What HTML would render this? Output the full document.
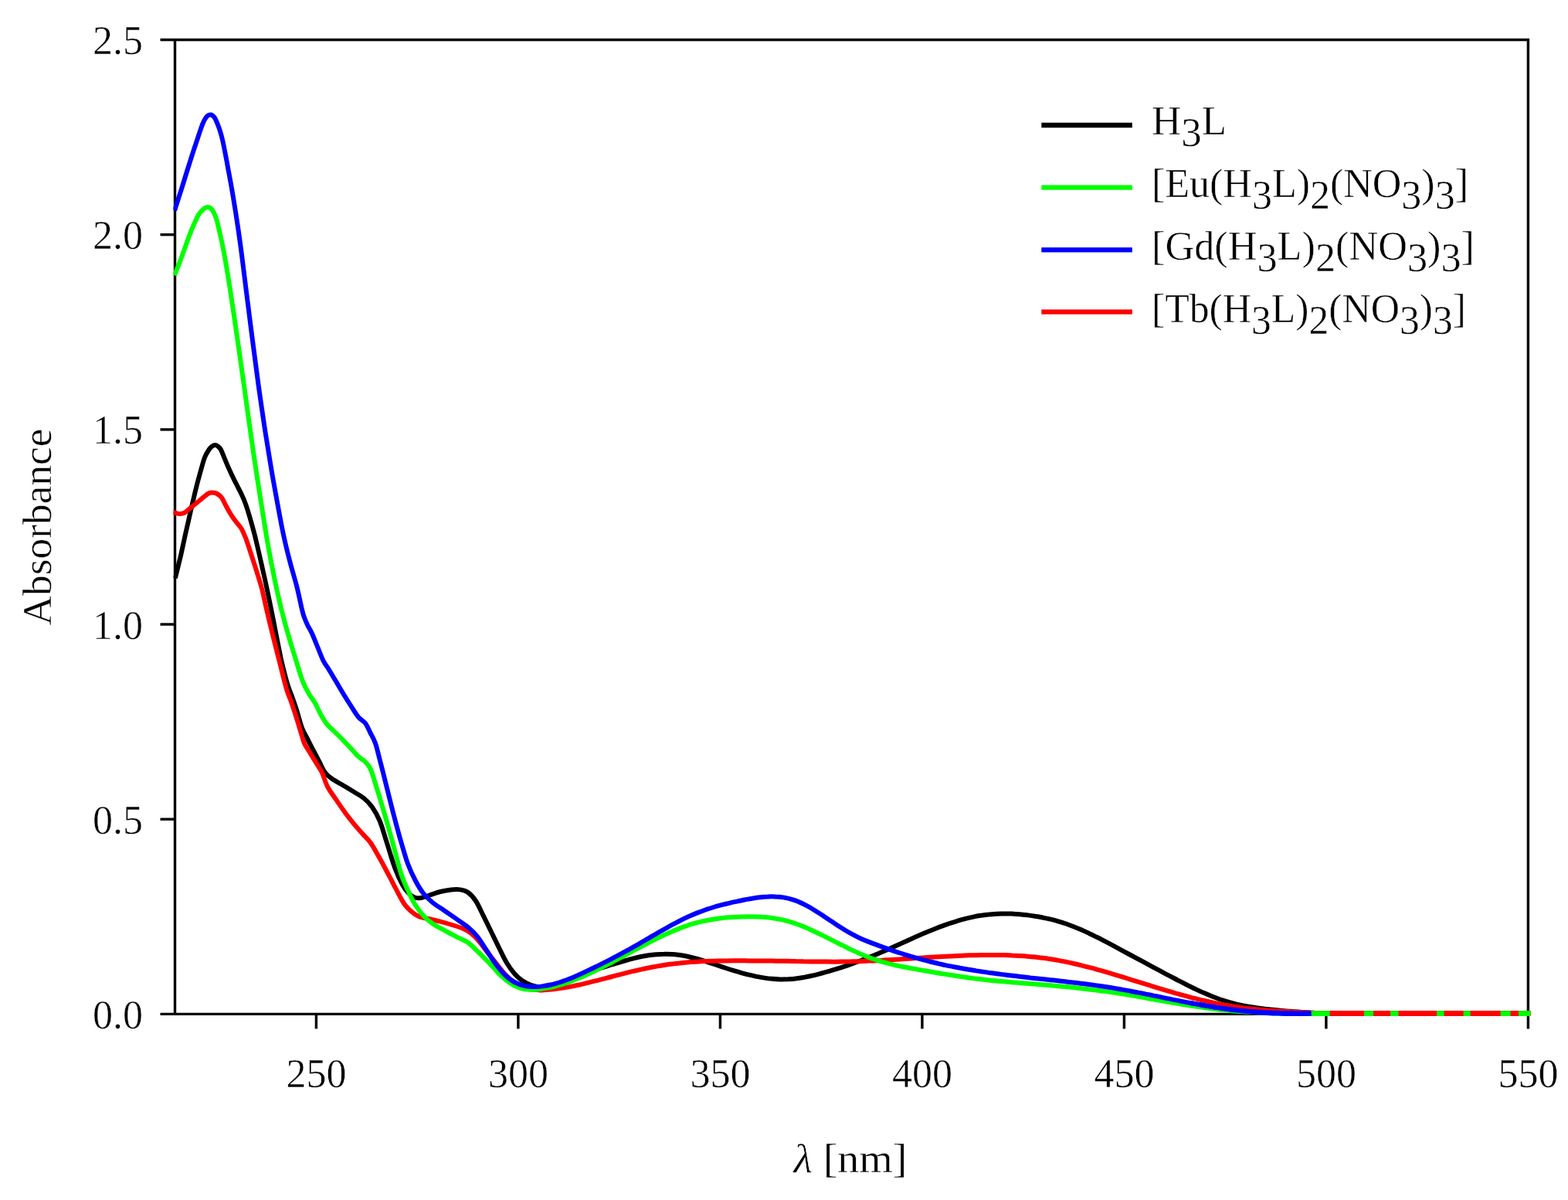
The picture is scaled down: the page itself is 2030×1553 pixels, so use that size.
<!DOCTYPE html>
<html lang="en">
<head>
<meta charset="utf-8">
<title>Absorbance spectra</title>
<style>
html,body{margin:0;padding:0;background:#fff;}
body{width:2030px;height:1553px;overflow:hidden;}
svg{display:block;}
text{font-family:"Liberation Serif","DejaVu Serif",serif;font-size:52px;fill:#000;stroke:#fff;stroke-width:0.5px;}
.ax{stroke:#000;stroke-width:3.4;fill:none;stroke-linecap:butt;}
.cv{fill:none;stroke-width:6.0;stroke-linecap:square;stroke-linejoin:round;}
.lg{fill:none;stroke-width:6.3;stroke-linecap:butt;}
</style>
</head>
<body>
<svg width="2030" height="1553" viewBox="0 0 2030 1553">
<rect width="2030" height="1553" fill="#fff"/>
<g class="ax">
<path d="M226.5 51.5V1312.4"/>
<path d="M207.5 51.5H1980.1000000000001"/>
<path d="M1978.4 51.5V1331.4"/>
<path d="M207.5 1312.4H1978.4"/>
<path d="M207.5 1060.2H226.5"/>
<path d="M207.5 808.0H226.5"/>
<path d="M207.5 555.9H226.5"/>
<path d="M207.5 303.7H226.5"/>
<path d="M409.4 1312.4V1331.4"/>
<path d="M670.9 1312.4V1331.4"/>
<path d="M932.4 1312.4V1331.4"/>
<path d="M1193.9 1312.4V1331.4"/>
<path d="M1455.4 1312.4V1331.4"/>
<path d="M1716.9 1312.4V1331.4"/>
</g>
<g text-anchor="end">
<text x="185" y="1330.9">0.0</text>
<text x="185" y="1078.7">0.5</text>
<text x="185" y="826.5">1.0</text>
<text x="185" y="574.4">1.5</text>
<text x="185" y="322.2">2.0</text>
<text x="185" y="70.0">2.5</text>
</g>
<g text-anchor="middle">
<text x="409.4" y="1407">250</text>
<text x="670.9" y="1407">300</text>
<text x="932.4" y="1407">350</text>
<text x="1193.9" y="1407">400</text>
<text x="1455.4" y="1407">450</text>
<text x="1716.9" y="1407">500</text>
<text x="1978.4" y="1407">550</text>
</g>
<text transform="translate(66 682) rotate(-90)" text-anchor="middle" textLength="255" lengthAdjust="spacingAndGlyphs">Absorbance</text>
<text x="1101" y="1517" text-anchor="middle" textLength="147" lengthAdjust="spacingAndGlyphs"><tspan font-style="italic">λ</tspan> [nm]</text>
<defs><clipPath id="pc"><rect x="224.3" y="40" width="1757.5" height="1285"/></clipPath></defs>
<path class="cv" clip-path="url(#pc)" stroke="#000000" d="M227.5 745.5C227.7 744.6 227.9 744.2 228.9 740.0C229.9 735.7 232.8 724.2 233.8 720.0C234.8 715.8 233.8 720.0 234.9 715.0C236.0 710.0 238.7 697.6 240.3 690.1C242.0 682.6 243.4 676.7 244.9 670.0C246.4 663.3 247.9 656.7 249.5 650.0C251.1 643.3 252.6 636.7 254.3 630.1C255.9 623.4 257.8 616.5 259.6 610.2C261.4 603.8 263.2 596.7 265.0 592.0C266.8 587.3 268.9 584.4 270.5 582.0C272.1 579.6 273.2 578.6 274.5 577.6C275.8 576.6 277.2 576.0 278.5 576.0C279.8 576.0 281.2 576.8 282.5 577.8C283.8 578.8 284.6 579.4 286.0 582.0C287.4 584.6 288.9 589.0 290.7 593.1C292.4 597.3 294.5 602.4 296.5 606.8C298.4 611.2 300.6 615.9 302.5 619.7C304.4 623.6 306.0 626.5 307.8 630.1C309.7 633.7 311.7 637.4 313.4 641.3C315.2 645.1 316.6 648.4 318.3 653.2C320.0 658.1 321.8 664.0 323.6 670.1C325.4 676.2 327.8 685.0 329.1 690.0C330.4 695.0 330.1 693.4 331.6 700.1C333.2 706.8 336.3 720.0 338.5 730.0C340.8 740.0 343.0 750.1 345.2 760.1C347.3 770.1 349.4 780.0 351.4 790.0C353.4 800.0 355.2 809.7 357.3 820.0C359.3 830.3 362.0 844.2 363.6 851.9C365.3 859.5 365.4 859.9 367.0 865.9C368.5 872.0 371.0 881.6 373.0 888.0C375.0 894.4 377.0 898.5 379.0 904.2C381.0 909.9 383.1 915.8 385.0 922.1C387.0 928.4 388.7 936.1 391.0 942.0C393.3 947.9 396.5 953.1 398.9 957.8C401.2 962.5 402.8 965.5 405.2 970.2C407.6 974.8 410.7 980.8 413.4 985.8C416.0 990.8 418.2 996.3 421.0 1000.0C423.8 1003.7 426.0 1005.2 430.0 1008.0C434.0 1010.8 440.1 1013.8 444.9 1016.7C449.7 1019.6 454.5 1022.5 458.9 1025.2C463.2 1027.9 467.2 1029.9 471.0 1033.0C474.8 1036.1 478.1 1039.2 481.5 1044.0C484.9 1048.8 488.2 1054.0 491.5 1062.0C494.8 1070.0 497.9 1081.7 501.3 1092.1C504.6 1102.4 508.2 1115.2 511.5 1124.0C514.8 1132.8 518.1 1139.7 521.0 1145.0C523.9 1150.3 526.3 1153.2 529.0 1156.0C531.7 1158.8 534.3 1160.5 537.0 1161.5C539.7 1162.5 541.8 1162.5 545.0 1162.0C548.2 1161.5 551.8 1159.8 556.0 1158.5C560.2 1157.2 565.3 1155.2 570.0 1154.0C574.7 1152.8 579.7 1151.8 584.0 1151.4C588.3 1151.0 592.3 1150.8 596.0 1151.4C599.7 1152.0 602.7 1152.6 606.0 1155.0C609.3 1157.4 612.8 1161.1 616.0 1166.0C619.2 1170.9 622.1 1177.6 625.4 1184.3C628.7 1191.0 632.5 1198.8 636.0 1206.0C639.5 1213.2 643.3 1221.0 646.6 1227.7C649.9 1234.4 652.8 1240.6 656.0 1246.0C659.2 1251.4 662.7 1256.2 666.0 1260.0C669.3 1263.8 672.3 1266.5 676.0 1269.0C679.7 1271.5 684.0 1273.6 688.0 1275.0C692.0 1276.4 696.3 1277.3 700.0 1277.6C703.7 1277.8 706.7 1277.1 710.0 1276.6C713.3 1276.1 716.7 1275.3 720.0 1274.4C723.3 1273.6 726.7 1272.5 730.0 1271.4C733.3 1270.3 736.7 1269.0 740.0 1267.7C743.3 1266.4 746.7 1265.0 750.0 1263.6C753.3 1262.3 756.7 1260.9 760.0 1259.5C763.3 1258.2 766.7 1256.8 770.0 1255.6C773.3 1254.3 776.7 1253.2 780.0 1252.1C783.3 1251.0 786.7 1250.0 790.0 1249.0C793.3 1248.0 796.7 1247.1 800.0 1246.1C803.3 1245.1 806.7 1244.1 810.0 1243.1C813.3 1242.2 816.7 1241.2 820.0 1240.3C823.3 1239.5 826.7 1238.7 830.0 1238.0C833.3 1237.4 836.7 1236.8 840.0 1236.3C843.3 1235.8 846.7 1235.5 850.0 1235.2C853.3 1234.9 856.7 1234.8 860.0 1234.8C863.3 1234.7 866.7 1234.8 870.0 1235.0C873.3 1235.2 876.7 1235.6 880.0 1236.0C883.3 1236.5 886.7 1237.1 890.0 1237.8C893.3 1238.5 896.7 1239.4 900.0 1240.2C903.3 1241.1 906.7 1242.1 910.0 1243.1C913.3 1244.1 916.7 1245.2 920.0 1246.3C923.3 1247.4 926.7 1248.6 930.0 1249.7C933.3 1250.8 936.7 1251.9 940.0 1253.0C943.3 1254.1 946.7 1255.2 950.0 1256.2C953.3 1257.2 956.7 1258.2 960.0 1259.1C963.3 1260.0 966.7 1260.9 970.0 1261.7C973.3 1262.5 976.7 1263.2 980.0 1263.9C983.3 1264.5 986.7 1265.1 990.0 1265.6C993.3 1266.1 996.7 1266.5 1000.0 1266.8C1003.3 1267.1 1006.7 1267.3 1010.0 1267.4C1013.3 1267.5 1016.7 1267.4 1020.0 1267.3C1023.3 1267.1 1026.7 1266.9 1030.0 1266.5C1033.3 1266.1 1036.7 1265.6 1040.0 1265.0C1043.3 1264.4 1046.7 1263.8 1050.0 1263.0C1053.3 1262.3 1056.7 1261.5 1060.0 1260.6C1063.3 1259.8 1066.7 1258.8 1070.0 1257.9C1073.3 1256.9 1076.7 1256.0 1080.0 1254.9C1083.3 1253.9 1086.7 1252.9 1090.0 1251.8C1093.3 1250.7 1096.7 1249.6 1100.0 1248.4C1103.3 1247.3 1106.7 1246.1 1110.0 1244.8C1113.3 1243.6 1116.7 1242.3 1120.0 1241.0C1123.3 1239.7 1126.7 1238.4 1130.0 1237.0C1133.3 1235.7 1136.7 1234.2 1140.0 1232.8C1143.3 1231.4 1146.7 1229.9 1150.0 1228.4C1153.3 1226.9 1156.7 1225.4 1160.0 1223.9C1163.3 1222.4 1166.7 1220.9 1170.0 1219.4C1173.3 1217.9 1176.7 1216.4 1180.0 1214.9C1183.3 1213.4 1186.7 1211.9 1190.0 1210.5C1193.3 1209.1 1196.7 1207.6 1200.0 1206.2C1203.3 1204.9 1206.7 1203.5 1210.0 1202.2C1213.3 1200.9 1216.7 1199.6 1220.0 1198.4C1223.3 1197.1 1226.7 1196.0 1230.0 1194.8C1233.3 1193.7 1236.7 1192.7 1240.0 1191.7C1243.3 1190.7 1246.7 1189.8 1250.0 1188.9C1253.3 1188.1 1256.7 1187.3 1260.0 1186.6C1263.3 1185.9 1266.7 1185.3 1270.0 1184.8C1273.3 1184.3 1276.7 1183.8 1280.0 1183.5C1283.3 1183.1 1286.7 1182.9 1290.0 1182.7C1293.3 1182.5 1296.7 1182.5 1300.0 1182.4C1303.3 1182.4 1306.7 1182.5 1310.0 1182.6C1313.3 1182.8 1316.7 1183.0 1320.0 1183.2C1323.3 1183.5 1326.7 1183.9 1330.0 1184.3C1333.3 1184.7 1336.7 1185.1 1340.0 1185.7C1343.3 1186.2 1346.7 1186.8 1350.0 1187.5C1353.3 1188.2 1356.7 1188.9 1360.0 1189.7C1363.3 1190.5 1366.7 1191.4 1370.0 1192.4C1373.3 1193.4 1376.7 1194.4 1380.0 1195.5C1383.3 1196.7 1386.7 1197.9 1390.0 1199.2C1393.3 1200.5 1396.7 1201.9 1400.0 1203.3C1403.3 1204.8 1406.7 1206.3 1410.0 1207.9C1413.3 1209.4 1416.7 1211.1 1420.0 1212.8C1423.3 1214.4 1426.7 1216.2 1430.0 1217.9C1433.3 1219.6 1436.7 1221.4 1440.0 1223.2C1443.3 1225.0 1446.7 1226.8 1450.0 1228.6C1453.3 1230.4 1456.7 1232.2 1460.0 1234.0C1463.3 1235.7 1466.7 1237.5 1470.0 1239.3C1473.3 1241.1 1476.7 1242.9 1480.0 1244.7C1483.3 1246.5 1486.7 1248.3 1490.0 1250.1C1493.3 1251.9 1496.7 1253.7 1500.0 1255.4C1503.3 1257.2 1506.7 1259.0 1510.0 1260.8C1513.3 1262.5 1516.7 1264.3 1520.0 1266.0C1523.3 1267.8 1526.7 1269.5 1530.0 1271.2C1533.3 1272.9 1536.7 1274.6 1540.0 1276.3C1543.3 1277.9 1546.7 1279.5 1550.0 1281.1C1553.3 1282.7 1556.7 1284.2 1560.0 1285.6C1563.3 1287.1 1566.7 1288.5 1570.0 1289.8C1573.3 1291.1 1576.7 1292.3 1580.0 1293.5C1583.3 1294.6 1586.7 1295.6 1590.0 1296.6C1593.3 1297.6 1596.7 1298.4 1600.0 1299.3C1603.3 1300.1 1606.7 1300.8 1610.0 1301.5C1613.3 1302.1 1616.7 1302.7 1620.0 1303.3C1623.3 1303.9 1626.7 1304.4 1630.0 1304.8C1633.3 1305.3 1636.7 1305.7 1640.0 1306.1C1643.3 1306.4 1646.7 1306.8 1650.0 1307.1C1653.3 1307.4 1656.7 1307.7 1660.0 1308.0C1663.3 1308.3 1666.7 1308.5 1670.0 1308.8C1673.3 1309.0 1676.7 1309.3 1680.0 1309.5C1683.3 1309.8 1686.7 1310.1 1690.0 1310.3C1693.3 1310.6 1695.0 1310.8 1700.0 1311.0C1705.0 1311.2 1713.3 1311.5 1720.0 1311.7C1726.7 1311.9 1697.0 1311.9 1740.0 1311.9C1783.0 1311.9 1938.6 1311.9 1978.3 1311.9"/>
<path class="cv" clip-path="url(#pc)" stroke="#ff0000" d="M227.0 663.7C228.0 663.9 231.0 665.0 233.0 665.0C235.0 665.0 237.0 664.5 239.0 663.5C241.0 662.5 242.7 660.6 244.9 658.8C247.0 657.1 249.6 654.9 252.0 653.0C254.3 651.0 256.9 648.9 259.1 647.1C261.2 645.3 263.3 643.6 265.1 642.2C267.0 640.7 268.4 639.3 270.0 638.5C271.6 637.7 273.2 637.4 275.0 637.5C276.8 637.6 279.0 637.9 281.0 639.0C283.0 640.1 285.2 641.6 287.0 644.0C288.8 646.4 290.2 650.2 291.8 653.1C293.4 656.1 294.9 659.0 296.5 661.7C298.1 664.5 299.7 667.1 301.5 669.7C303.2 672.2 305.1 674.6 307.0 677.0C308.8 679.4 310.9 681.3 312.5 684.0C314.1 686.7 315.6 690.4 316.7 693.1C317.9 695.8 317.4 694.0 319.5 700.2C321.6 706.3 326.1 720.1 329.3 730.1C332.4 740.0 335.8 750.0 338.5 760.0C341.2 770.0 343.0 779.9 345.4 789.9C347.7 799.9 350.0 809.1 352.6 820.0C355.3 830.8 358.4 843.0 361.5 855.0C364.6 867.0 368.4 883.1 371.0 892.0C373.6 900.9 375.0 902.5 377.0 908.2C378.9 913.9 380.8 919.5 382.9 926.1C385.0 932.7 387.7 941.9 389.5 947.8C391.4 953.8 392.0 957.6 394.0 962.0C396.0 966.4 398.5 969.5 401.3 974.1C404.1 978.8 408.2 985.5 410.8 989.8C413.4 994.2 414.8 995.3 417.0 1000.0C419.2 1004.7 420.9 1012.1 424.0 1018.0C427.1 1023.9 431.5 1029.7 435.6 1035.6C439.6 1041.6 444.4 1048.4 448.3 1053.8C452.3 1059.1 455.8 1063.4 459.3 1067.7C462.9 1072.0 466.2 1075.5 469.6 1079.4C473.1 1083.2 476.2 1085.5 480.0 1091.0C483.8 1096.5 488.6 1105.5 492.4 1112.3C496.3 1119.2 499.4 1125.3 503.1 1132.2C506.8 1139.1 511.0 1147.5 514.4 1153.8C517.8 1160.1 520.4 1165.6 523.5 1170.0C526.6 1174.4 529.8 1177.2 533.0 1180.0C536.2 1182.8 539.2 1184.9 543.0 1186.5C546.8 1188.1 551.6 1188.3 556.0 1189.3C560.5 1190.3 565.2 1191.4 569.9 1192.6C574.5 1193.8 578.8 1195.0 583.8 1196.5C588.8 1198.1 595.6 1200.1 600.0 1202.0C604.4 1203.9 606.7 1205.3 610.0 1208.0C613.3 1210.7 616.3 1213.7 620.0 1218.0C623.7 1222.3 628.8 1229.6 632.2 1233.9C635.5 1238.2 636.3 1239.2 640.1 1243.9C643.9 1248.6 650.0 1257.0 655.0 1262.0C660.0 1267.0 665.0 1271.1 670.0 1274.0C675.0 1276.9 680.0 1278.3 685.0 1279.5C690.0 1280.7 695.8 1281.2 700.0 1281.4C704.2 1281.6 706.7 1281.1 710.0 1280.8C713.3 1280.6 716.7 1280.2 720.0 1279.8C723.3 1279.4 726.7 1278.9 730.0 1278.3C733.3 1277.8 736.7 1277.2 740.0 1276.6C743.3 1275.9 746.7 1275.2 750.0 1274.5C753.3 1273.7 756.7 1273.0 760.0 1272.2C763.3 1271.4 766.7 1270.5 770.0 1269.7C773.3 1268.9 776.7 1268.0 780.0 1267.1C783.3 1266.2 786.7 1265.4 790.0 1264.5C793.3 1263.6 796.7 1262.7 800.0 1261.8C803.3 1261.0 806.7 1260.1 810.0 1259.3C813.3 1258.4 816.7 1257.6 820.0 1256.8C823.3 1256.1 826.7 1255.3 830.0 1254.6C833.3 1253.9 836.7 1253.2 840.0 1252.5C843.3 1251.9 846.7 1251.2 850.0 1250.6C853.3 1250.1 856.7 1249.5 860.0 1249.0C863.3 1248.5 866.7 1248.0 870.0 1247.6C873.3 1247.1 876.7 1246.7 880.0 1246.4C883.3 1246.0 886.7 1245.7 890.0 1245.4C893.3 1245.1 896.7 1244.9 900.0 1244.7C903.3 1244.5 906.7 1244.3 910.0 1244.1C913.3 1244.0 916.7 1243.9 920.0 1243.8C923.3 1243.7 926.7 1243.6 930.0 1243.5C933.3 1243.4 936.7 1243.4 940.0 1243.4C943.3 1243.3 946.7 1243.3 950.0 1243.3C953.3 1243.3 956.7 1243.3 960.0 1243.3C963.3 1243.3 966.7 1243.4 970.0 1243.4C973.3 1243.4 976.7 1243.4 980.0 1243.4C983.3 1243.5 986.7 1243.5 990.0 1243.5C993.3 1243.5 996.7 1243.6 1000.0 1243.6C1003.3 1243.6 1006.7 1243.7 1010.0 1243.7C1013.3 1243.7 1016.7 1243.8 1020.0 1243.8C1023.3 1243.9 1026.7 1243.9 1030.0 1244.0C1033.3 1244.0 1036.7 1244.1 1040.0 1244.2C1043.3 1244.2 1046.7 1244.3 1050.0 1244.4C1053.3 1244.4 1056.7 1244.5 1060.0 1244.5C1063.3 1244.6 1066.7 1244.6 1070.0 1244.6C1073.3 1244.7 1076.7 1244.7 1080.0 1244.7C1083.3 1244.7 1086.7 1244.7 1090.0 1244.6C1093.3 1244.6 1096.7 1244.5 1100.0 1244.5C1103.3 1244.4 1106.7 1244.3 1110.0 1244.2C1113.3 1244.1 1116.7 1244.0 1120.0 1243.8C1123.3 1243.7 1126.7 1243.5 1130.0 1243.4C1133.3 1243.2 1136.7 1243.0 1140.0 1242.9C1143.3 1242.7 1146.7 1242.5 1150.0 1242.3C1153.3 1242.1 1156.7 1241.9 1160.0 1241.7C1163.3 1241.5 1166.7 1241.3 1170.0 1241.1C1173.3 1240.9 1176.7 1240.6 1180.0 1240.4C1183.3 1240.2 1186.7 1240.0 1190.0 1239.8C1193.3 1239.6 1196.7 1239.3 1200.0 1239.1C1203.3 1238.9 1206.7 1238.7 1210.0 1238.5C1213.3 1238.3 1216.7 1238.1 1220.0 1237.9C1223.3 1237.8 1226.7 1237.6 1230.0 1237.4C1233.3 1237.2 1236.7 1237.1 1240.0 1236.9C1243.3 1236.8 1246.7 1236.7 1250.0 1236.5C1253.3 1236.4 1256.7 1236.3 1260.0 1236.2C1263.3 1236.2 1266.7 1236.1 1270.0 1236.0C1273.3 1236.0 1276.7 1235.9 1280.0 1235.9C1283.3 1235.9 1286.7 1235.9 1290.0 1236.0C1293.3 1236.0 1296.7 1236.0 1300.0 1236.1C1303.3 1236.2 1306.7 1236.3 1310.0 1236.5C1313.3 1236.6 1316.7 1236.8 1320.0 1237.0C1323.3 1237.2 1326.7 1237.4 1330.0 1237.7C1333.3 1238.0 1336.7 1238.3 1340.0 1238.6C1343.3 1239.0 1346.7 1239.4 1350.0 1239.8C1353.3 1240.2 1356.7 1240.7 1360.0 1241.2C1363.3 1241.8 1366.7 1242.3 1370.0 1242.9C1373.3 1243.5 1376.7 1244.2 1380.0 1244.8C1383.3 1245.5 1386.7 1246.2 1390.0 1247.0C1393.3 1247.7 1396.7 1248.5 1400.0 1249.3C1403.3 1250.1 1406.7 1251.0 1410.0 1251.9C1413.3 1252.7 1416.7 1253.6 1420.0 1254.6C1423.3 1255.5 1426.7 1256.4 1430.0 1257.4C1433.3 1258.4 1436.7 1259.3 1440.0 1260.3C1443.3 1261.3 1446.7 1262.4 1450.0 1263.4C1453.3 1264.4 1456.7 1265.4 1460.0 1266.5C1463.3 1267.5 1466.7 1268.6 1470.0 1269.6C1473.3 1270.6 1476.7 1271.7 1480.0 1272.7C1483.3 1273.8 1486.7 1274.8 1490.0 1275.8C1493.3 1276.9 1496.7 1277.9 1500.0 1278.9C1503.3 1279.9 1506.7 1280.9 1510.0 1281.9C1513.3 1282.9 1516.7 1283.9 1520.0 1284.8C1523.3 1285.8 1526.7 1286.7 1530.0 1287.6C1533.3 1288.5 1536.7 1289.4 1540.0 1290.3C1543.3 1291.2 1546.7 1292.0 1550.0 1292.8C1553.3 1293.7 1556.7 1294.5 1560.0 1295.2C1563.3 1296.0 1566.7 1296.8 1570.0 1297.5C1573.3 1298.2 1576.7 1298.9 1580.0 1299.5C1583.3 1300.1 1586.7 1300.8 1590.0 1301.3C1593.3 1301.9 1596.7 1302.5 1600.0 1303.0C1603.3 1303.5 1606.7 1303.9 1610.0 1304.4C1613.3 1304.8 1616.7 1305.2 1620.0 1305.5C1623.3 1305.9 1626.7 1306.2 1630.0 1306.5C1633.3 1306.9 1636.7 1307.1 1640.0 1307.4C1643.3 1307.7 1646.7 1307.9 1650.0 1308.1C1653.3 1308.3 1656.7 1308.5 1660.0 1308.7C1663.3 1308.9 1666.7 1309.1 1670.0 1309.3C1673.3 1309.4 1676.7 1309.6 1680.0 1309.7C1683.3 1309.9 1686.7 1310.1 1690.0 1310.2C1693.3 1310.3 1695.0 1310.5 1700.0 1310.6C1705.0 1310.7 1673.6 1310.9 1720.0 1310.9C1766.4 1311.0 1935.2 1310.9 1978.3 1310.9"/>
<path class="cv" clip-path="url(#pc)" stroke="#00ff00" d="M227.0 353.5C227.8 351.5 230.1 346.0 231.9 341.3C233.7 336.7 235.9 330.6 237.8 325.4C239.7 320.2 241.6 314.6 243.2 310.1C244.9 305.5 246.2 301.9 247.7 298.1C249.3 294.3 250.9 290.6 252.5 287.2C254.0 283.9 255.2 280.7 257.0 278.0C258.8 275.3 261.0 272.7 263.0 271.0C265.0 269.3 267.0 267.8 269.0 268.0C271.0 268.2 273.2 269.5 275.0 272.0C276.8 274.5 278.5 278.7 280.0 283.0C281.5 287.3 282.5 292.7 283.8 298.1C285.0 303.4 286.3 308.9 287.6 315.1C288.8 321.2 290.2 328.4 291.4 335.0C292.6 341.7 293.7 348.4 294.8 355.0C295.9 361.7 296.9 368.3 298.0 375.0C299.0 381.7 300.2 390.0 301.0 395.0C301.7 400.0 301.1 395.8 302.5 405.0C303.8 414.2 306.7 434.2 309.0 450.0C311.3 465.8 313.5 481.7 316.1 500.1C318.6 518.4 322.1 543.3 324.4 559.9C326.8 576.6 328.2 586.6 330.2 600.0C332.2 613.3 334.3 626.7 336.4 640.0C338.5 653.4 341.1 670.0 342.7 680.0C344.3 690.0 344.6 691.7 346.0 700.0C347.5 708.3 349.6 719.9 351.5 729.9C353.5 739.9 355.5 750.0 357.7 760.0C359.9 770.0 362.1 779.9 364.6 789.8C367.1 799.8 369.5 809.0 372.7 819.8C375.8 830.7 380.1 844.5 383.3 854.9C386.5 865.3 389.2 874.8 392.0 882.0C394.8 889.2 397.3 893.3 400.0 898.0C402.7 902.7 405.3 905.3 408.0 910.0C410.7 914.7 413.3 921.3 416.0 926.0C418.7 930.7 421.0 934.4 424.0 938.0C427.0 941.6 430.8 944.6 434.1 947.9C437.4 951.1 440.4 954.0 443.7 957.3C447.0 960.7 450.5 964.5 453.9 968.1C457.3 971.7 460.8 976.0 464.0 979.0C467.2 982.0 470.3 983.2 473.0 986.0C475.7 988.8 477.5 990.3 480.0 996.0C482.5 1001.7 485.4 1012.7 487.8 1020.1C490.1 1027.4 491.4 1031.7 493.9 1040.0C496.4 1048.4 499.8 1060.1 502.7 1070.1C505.5 1080.1 508.2 1090.0 510.9 1100.0C513.7 1110.0 516.3 1121.7 519.0 1130.0C521.7 1138.3 524.0 1143.3 527.0 1150.0C530.0 1156.7 533.3 1164.0 537.0 1170.0C540.7 1176.0 545.0 1181.7 549.0 1186.0C553.0 1190.3 556.6 1193.0 561.0 1196.0C565.4 1199.0 570.3 1201.2 575.1 1203.8C579.9 1206.5 584.9 1209.1 590.1 1211.8C595.2 1214.5 601.1 1216.6 606.0 1220.0C610.9 1223.4 615.0 1228.1 619.6 1232.5C624.2 1236.9 629.1 1241.8 633.5 1246.4C637.9 1251.0 641.6 1255.7 646.0 1260.0C650.4 1264.3 655.3 1268.8 660.0 1272.0C664.7 1275.2 669.3 1277.5 674.0 1279.0C678.7 1280.5 683.7 1280.8 688.0 1281.0C692.3 1281.2 696.3 1280.5 700.0 1280.0C703.7 1279.6 706.7 1279.0 710.0 1278.4C713.3 1277.7 716.7 1276.9 720.0 1276.0C723.3 1275.1 726.7 1274.2 730.0 1273.1C733.3 1272.0 736.7 1270.8 740.0 1269.6C743.3 1268.4 746.7 1267.0 750.0 1265.6C753.3 1264.2 756.7 1262.8 760.0 1261.3C763.3 1259.8 766.7 1258.2 770.0 1256.6C773.3 1255.0 776.7 1253.3 780.0 1251.6C783.3 1249.9 786.7 1248.2 790.0 1246.5C793.3 1244.7 796.7 1243.0 800.0 1241.2C803.3 1239.4 806.7 1237.6 810.0 1235.8C813.3 1234.0 816.7 1232.2 820.0 1230.4C823.3 1228.7 826.7 1226.9 830.0 1225.1C833.3 1223.4 836.7 1221.6 840.0 1219.9C843.3 1218.2 846.7 1216.5 850.0 1214.8C853.3 1213.2 856.7 1211.6 860.0 1210.0C863.3 1208.5 866.7 1207.0 870.0 1205.5C873.3 1204.1 876.7 1202.7 880.0 1201.4C883.3 1200.1 886.7 1198.9 890.0 1197.8C893.3 1196.6 896.7 1195.6 900.0 1194.7C903.3 1193.7 906.7 1192.9 910.0 1192.1C913.3 1191.4 916.7 1190.8 920.0 1190.2C923.3 1189.6 926.7 1189.1 930.0 1188.7C933.3 1188.3 936.7 1187.9 940.0 1187.6C943.3 1187.3 946.7 1187.1 950.0 1186.9C953.3 1186.7 956.7 1186.6 960.0 1186.5C963.3 1186.4 966.7 1186.3 970.0 1186.3C973.3 1186.3 976.7 1186.3 980.0 1186.4C983.3 1186.6 986.7 1186.7 990.0 1187.0C993.3 1187.3 996.7 1187.6 1000.0 1188.1C1003.3 1188.6 1006.7 1189.1 1010.0 1189.8C1013.3 1190.5 1016.7 1191.2 1020.0 1192.2C1023.3 1193.1 1026.7 1194.2 1030.0 1195.3C1033.3 1196.5 1036.7 1197.8 1040.0 1199.1C1043.3 1200.5 1046.7 1202.0 1050.0 1203.5C1053.3 1205.0 1056.7 1206.6 1060.0 1208.2C1063.3 1209.8 1066.7 1211.5 1070.0 1213.1C1073.3 1214.8 1076.7 1216.5 1080.0 1218.2C1083.3 1219.9 1086.7 1221.6 1090.0 1223.2C1093.3 1224.9 1096.7 1226.5 1100.0 1228.1C1103.3 1229.7 1106.7 1231.2 1110.0 1232.7C1113.3 1234.2 1116.7 1235.7 1120.0 1237.0C1123.3 1238.4 1126.7 1239.7 1130.0 1240.8C1133.3 1242.0 1136.7 1243.1 1140.0 1244.1C1143.3 1245.1 1146.7 1246.0 1150.0 1246.9C1153.3 1247.7 1156.7 1248.5 1160.0 1249.3C1163.3 1250.0 1166.7 1250.7 1170.0 1251.3C1173.3 1252.0 1176.7 1252.6 1180.0 1253.2C1183.3 1253.8 1186.7 1254.4 1190.0 1255.0C1193.3 1255.6 1196.7 1256.2 1200.0 1256.8C1203.3 1257.3 1206.7 1257.9 1210.0 1258.5C1213.3 1259.0 1216.7 1259.6 1220.0 1260.2C1223.3 1260.7 1226.7 1261.2 1230.0 1261.8C1233.3 1262.3 1236.7 1262.8 1240.0 1263.3C1243.3 1263.8 1246.7 1264.3 1250.0 1264.8C1253.3 1265.2 1256.7 1265.7 1260.0 1266.1C1263.3 1266.5 1266.7 1267.0 1270.0 1267.3C1273.3 1267.7 1276.7 1268.1 1280.0 1268.4C1283.3 1268.8 1286.7 1269.1 1290.0 1269.4C1293.3 1269.8 1296.7 1270.1 1300.0 1270.3C1303.3 1270.6 1306.7 1270.9 1310.0 1271.2C1313.3 1271.5 1316.7 1271.7 1320.0 1272.0C1323.3 1272.3 1326.7 1272.5 1330.0 1272.8C1333.3 1273.1 1336.7 1273.3 1340.0 1273.6C1343.3 1273.9 1346.7 1274.1 1350.0 1274.4C1353.3 1274.7 1356.7 1275.0 1360.0 1275.3C1363.3 1275.6 1366.7 1275.9 1370.0 1276.2C1373.3 1276.5 1376.7 1276.8 1380.0 1277.1C1383.3 1277.5 1386.7 1277.8 1390.0 1278.1C1393.3 1278.5 1396.7 1278.8 1400.0 1279.2C1403.3 1279.6 1406.7 1280.0 1410.0 1280.4C1413.3 1280.8 1416.7 1281.2 1420.0 1281.6C1423.3 1282.0 1426.7 1282.4 1430.0 1282.9C1433.3 1283.4 1436.7 1283.8 1440.0 1284.3C1443.3 1284.8 1446.7 1285.3 1450.0 1285.8C1453.3 1286.4 1456.7 1286.9 1460.0 1287.5C1463.3 1288.0 1466.7 1288.6 1470.0 1289.1C1473.3 1289.7 1476.7 1290.3 1480.0 1290.9C1483.3 1291.5 1486.7 1292.1 1490.0 1292.7C1493.3 1293.3 1496.7 1293.9 1500.0 1294.5C1503.3 1295.1 1506.7 1295.7 1510.0 1296.3C1513.3 1296.9 1516.7 1297.5 1520.0 1298.0C1523.3 1298.6 1526.7 1299.2 1530.0 1299.8C1533.3 1300.3 1536.7 1300.9 1540.0 1301.4C1543.3 1301.9 1546.7 1302.4 1550.0 1302.9C1553.3 1303.4 1556.7 1303.9 1560.0 1304.3C1563.3 1304.8 1566.7 1305.2 1570.0 1305.6C1573.3 1306.0 1576.7 1306.4 1580.0 1306.8C1583.3 1307.1 1586.7 1307.4 1590.0 1307.8C1593.3 1308.1 1596.7 1308.4 1600.0 1308.7C1603.3 1308.9 1606.7 1309.2 1610.0 1309.4C1613.3 1309.7 1616.7 1309.9 1620.0 1310.1C1623.3 1310.3 1626.7 1310.5 1630.0 1310.6C1633.3 1310.8 1636.7 1310.9 1640.0 1311.1C1643.3 1311.2 1646.7 1311.3 1650.0 1311.4C1653.3 1311.5 1656.7 1311.6 1660.0 1311.7C1663.3 1311.8 1666.7 1311.8 1670.0 1311.9C1673.3 1311.9 1671.9 1311.9 1680.0 1311.9C1688.1 1311.9 1712.1 1311.9 1718.5 1311.9"/>
<path class="cv" clip-path="url(#pc)" stroke="#0000ff" d="M227.0 269.5C227.5 267.9 228.5 264.9 230.0 260.0C231.6 255.1 234.3 246.6 236.4 240.0C238.5 233.3 240.5 226.7 242.6 220.0C244.7 213.4 246.8 206.6 248.9 200.0C251.1 193.3 253.2 186.8 255.5 180.2C257.7 173.5 260.4 164.9 262.5 160.0C264.6 155.1 266.2 152.4 268.0 150.5C269.8 148.6 271.3 148.2 273.0 148.5C274.7 148.8 276.6 150.5 278.0 152.5C279.4 154.5 280.3 157.3 281.5 160.2C282.7 163.2 284.0 166.5 285.1 170.2C286.2 173.8 287.1 177.1 288.3 182.1C289.4 187.1 290.7 193.7 291.9 200.0C293.2 206.3 294.4 213.3 295.6 220.0C296.9 226.6 298.1 233.4 299.3 240.0C300.5 246.7 301.4 251.7 302.7 260.0C304.1 268.4 306.2 281.7 307.4 290.0C308.7 298.3 309.4 303.4 310.3 310.0C311.2 316.7 312.1 323.3 313.0 330.0C313.8 336.7 314.7 343.3 315.5 350.0C316.3 356.7 317.2 363.3 318.0 370.0C318.8 376.7 319.8 384.2 320.5 390.0C321.3 395.8 321.2 395.0 322.4 405.0C323.7 415.0 326.1 434.2 328.2 450.0C330.2 465.8 332.3 482.1 334.8 500.0C337.3 517.8 340.6 540.2 343.1 556.9C345.7 573.6 348.3 589.5 350.1 600.0C351.8 610.5 352.3 613.3 353.5 620.0C354.7 626.7 355.3 630.0 357.1 640.0C358.9 650.0 362.6 670.0 364.5 680.0C366.5 690.0 366.8 691.5 368.7 699.8C370.6 708.2 373.5 719.8 376.1 729.8C378.8 739.9 382.0 750.0 384.5 760.0C387.0 770.0 389.6 783.2 391.2 789.8C392.8 796.5 392.9 796.4 394.2 799.8C395.4 803.1 396.9 806.4 398.5 809.7C400.2 813.1 401.7 815.0 404.0 820.0C406.3 825.0 409.8 834.1 412.2 839.9C414.6 845.8 416.3 850.6 418.5 855.0C420.7 859.4 423.1 862.1 425.6 866.2C428.2 870.4 430.8 874.8 433.9 880.1C437.0 885.3 441.0 892.2 444.4 897.8C447.8 903.4 451.1 908.7 454.4 913.7C457.7 918.8 460.9 924.3 464.0 928.0C467.1 931.7 470.4 932.6 473.0 936.0C475.6 939.4 477.2 944.0 479.4 948.3C481.6 952.6 483.9 956.0 486.0 962.0C488.1 968.0 490.2 977.7 491.9 984.0C493.5 990.4 494.3 993.3 496.0 1000.0C497.7 1006.7 500.0 1016.0 502.0 1024.0C504.0 1032.0 506.0 1040.0 508.0 1048.0C510.1 1056.0 512.2 1064.3 514.3 1071.9C516.3 1079.6 518.2 1086.2 520.5 1093.8C522.8 1101.5 525.1 1110.3 528.0 1118.0C530.9 1125.7 534.7 1133.7 538.0 1140.0C541.3 1146.3 544.3 1151.3 548.0 1156.0C551.7 1160.7 555.6 1164.4 560.0 1168.0C564.4 1171.6 569.2 1174.3 574.2 1177.7C579.1 1181.1 584.4 1184.7 589.7 1188.4C595.0 1192.2 601.3 1196.1 606.0 1200.0C610.7 1203.9 614.0 1207.0 618.0 1212.0C622.0 1217.0 626.0 1224.0 630.0 1230.0C634.0 1236.0 638.0 1242.7 642.0 1248.0C646.0 1253.3 650.0 1258.2 654.0 1262.0C658.0 1265.8 661.7 1268.7 666.0 1271.0C670.3 1273.3 675.3 1275.0 680.0 1276.0C684.7 1277.0 690.0 1276.9 694.0 1277.0C698.0 1277.0 700.7 1276.6 704.0 1276.1C707.3 1275.7 710.7 1275.0 714.0 1274.3C717.3 1273.5 720.7 1272.5 724.0 1271.5C727.3 1270.4 730.7 1269.2 734.0 1268.0C737.3 1266.7 740.7 1265.3 744.0 1263.9C747.3 1262.5 750.7 1261.0 754.0 1259.4C757.3 1257.9 760.7 1256.3 764.0 1254.7C767.3 1253.1 770.7 1251.5 774.0 1249.9C777.3 1248.2 780.7 1246.6 784.0 1244.9C787.3 1243.2 790.7 1241.5 794.0 1239.7C797.3 1238.0 800.7 1236.2 804.0 1234.4C807.3 1232.6 810.7 1230.8 814.0 1229.0C817.3 1227.1 820.7 1225.2 824.0 1223.3C827.3 1221.4 830.7 1219.5 834.0 1217.5C837.3 1215.6 840.7 1213.6 844.0 1211.7C847.3 1209.8 850.7 1207.8 854.0 1205.9C857.3 1204.0 860.7 1202.1 864.0 1200.3C867.3 1198.4 870.7 1196.6 874.0 1194.8C877.3 1193.1 880.7 1191.4 884.0 1189.7C887.3 1188.1 890.7 1186.5 894.0 1185.1C897.3 1183.6 900.7 1182.2 904.0 1180.9C907.3 1179.6 910.7 1178.4 914.0 1177.2C917.3 1176.1 920.7 1175.0 924.0 1174.0C927.3 1173.0 930.7 1172.1 934.0 1171.2C937.3 1170.4 940.7 1169.6 944.0 1168.8C947.3 1168.0 950.7 1167.3 954.0 1166.6C957.3 1165.8 960.7 1165.2 964.0 1164.5C967.3 1163.9 970.7 1163.2 974.0 1162.7C977.3 1162.2 980.7 1161.7 984.0 1161.3C987.3 1160.9 990.7 1160.6 994.0 1160.5C997.3 1160.3 1000.7 1160.3 1004.0 1160.5C1007.3 1160.6 1010.7 1160.9 1014.0 1161.4C1017.3 1161.9 1020.7 1162.6 1024.0 1163.6C1027.3 1164.5 1030.7 1165.7 1034.0 1167.1C1037.3 1168.4 1040.7 1170.1 1044.0 1171.9C1047.3 1173.6 1050.7 1175.6 1054.0 1177.7C1057.3 1179.7 1060.7 1181.9 1064.0 1184.1C1067.3 1186.3 1070.7 1188.5 1074.0 1190.8C1077.3 1193.0 1080.7 1195.2 1084.0 1197.4C1087.3 1199.5 1090.7 1201.7 1094.0 1203.7C1097.3 1205.7 1100.7 1207.6 1104.0 1209.4C1107.3 1211.2 1110.7 1212.9 1114.0 1214.4C1117.3 1215.9 1120.7 1217.3 1124.0 1218.6C1127.3 1219.9 1130.7 1221.2 1134.0 1222.4C1137.3 1223.7 1140.7 1224.9 1144.0 1226.1C1147.3 1227.3 1150.7 1228.5 1154.0 1229.6C1157.3 1230.8 1160.7 1231.9 1164.0 1233.0C1167.3 1234.1 1170.7 1235.1 1174.0 1236.1C1177.3 1237.2 1180.7 1238.2 1184.0 1239.1C1187.3 1240.1 1190.7 1241.0 1194.0 1241.9C1197.3 1242.8 1200.7 1243.6 1204.0 1244.5C1207.3 1245.3 1210.7 1246.1 1214.0 1246.8C1217.3 1247.6 1220.7 1248.3 1224.0 1249.1C1227.3 1249.8 1230.7 1250.4 1234.0 1251.1C1237.3 1251.7 1240.7 1252.4 1244.0 1253.0C1247.3 1253.6 1250.7 1254.2 1254.0 1254.7C1257.3 1255.3 1260.7 1255.8 1264.0 1256.4C1267.3 1256.9 1270.7 1257.4 1274.0 1257.9C1277.3 1258.4 1280.7 1258.8 1284.0 1259.3C1287.3 1259.8 1290.7 1260.2 1294.0 1260.6C1297.3 1261.1 1300.7 1261.5 1304.0 1261.9C1307.3 1262.3 1310.7 1262.7 1314.0 1263.1C1317.3 1263.5 1320.7 1263.9 1324.0 1264.2C1327.3 1264.6 1330.7 1265.0 1334.0 1265.4C1337.3 1265.7 1340.7 1266.1 1344.0 1266.5C1347.3 1266.8 1350.7 1267.2 1354.0 1267.5C1357.3 1267.9 1360.7 1268.3 1364.0 1268.6C1367.3 1269.0 1370.7 1269.4 1374.0 1269.7C1377.3 1270.1 1380.7 1270.5 1384.0 1270.9C1387.3 1271.3 1390.7 1271.7 1394.0 1272.1C1397.3 1272.5 1400.7 1272.9 1404.0 1273.3C1407.3 1273.8 1410.7 1274.2 1414.0 1274.6C1417.3 1275.1 1420.7 1275.6 1424.0 1276.0C1427.3 1276.5 1430.7 1277.0 1434.0 1277.5C1437.3 1278.0 1440.7 1278.6 1444.0 1279.1C1447.3 1279.7 1450.7 1280.3 1454.0 1280.9C1457.3 1281.4 1460.7 1282.1 1464.0 1282.7C1467.3 1283.3 1470.7 1283.9 1474.0 1284.6C1477.3 1285.2 1480.7 1285.9 1484.0 1286.6C1487.3 1287.2 1490.7 1287.9 1494.0 1288.6C1497.3 1289.2 1500.7 1289.9 1504.0 1290.6C1507.3 1291.3 1510.7 1292.0 1514.0 1292.6C1517.3 1293.3 1520.7 1294.0 1524.0 1294.6C1527.3 1295.3 1530.7 1296.0 1534.0 1296.6C1537.3 1297.3 1540.7 1297.9 1544.0 1298.5C1547.3 1299.1 1550.7 1299.7 1554.0 1300.3C1557.3 1300.9 1560.7 1301.5 1564.0 1302.0C1567.3 1302.6 1570.7 1303.1 1574.0 1303.6C1577.3 1304.1 1580.7 1304.6 1584.0 1305.0C1587.3 1305.5 1590.7 1305.9 1594.0 1306.3C1597.3 1306.7 1600.7 1307.1 1604.0 1307.4C1607.3 1307.8 1610.7 1308.1 1614.0 1308.4C1617.3 1308.7 1620.7 1309.0 1624.0 1309.2C1627.3 1309.5 1630.7 1309.7 1634.0 1309.9C1637.3 1310.1 1640.7 1310.3 1644.0 1310.4C1647.3 1310.6 1650.7 1310.7 1654.0 1310.8C1657.3 1310.9 1660.7 1311.0 1664.0 1311.1C1667.3 1311.2 1670.7 1311.2 1674.0 1311.2C1677.3 1311.2 1680.7 1311.2 1684.0 1311.2C1687.3 1311.2 1692.3 1311.2 1694.0 1311.1"/>
<path class="cv" clip-path="url(#pc)" stroke="#ff0000" style="stroke-width:6.8" d="M1722 1311.5H1978.3"/>
<path class="cv" stroke="#00ff00" style="stroke-width:6.8;stroke-linecap:butt" d="M1697.5 1311.6H1721.6"/>
<path class="cv" stroke="#0000ff" d="M1544.0 1298.5C1545.7 1298.8 1550.7 1299.7 1554.0 1300.3C1557.3 1300.9 1560.7 1301.5 1564.0 1302.1C1567.3 1302.7 1570.7 1303.2 1574.0 1303.8C1577.3 1304.3 1580.7 1304.8 1584.0 1305.3C1587.3 1305.8 1590.7 1306.3 1594.0 1306.7C1597.3 1307.2 1600.7 1307.6 1604.0 1308.0C1607.3 1308.3 1610.7 1308.7 1614.0 1309.0C1617.3 1309.4 1620.7 1309.7 1624.0 1310.0C1627.3 1310.2 1630.7 1310.5 1634.0 1310.7C1637.3 1310.9 1640.7 1311.1 1644.0 1311.2C1647.3 1311.4 1650.7 1311.5 1654.0 1311.6C1657.3 1311.7 1660.7 1311.8 1664.0 1311.9C1667.3 1312.0 1670.7 1312.0 1674.0 1312.0C1677.3 1312.0 1680.5 1312.0 1684.0 1312.0C1687.5 1312.0 1693.0 1312.0 1694.8 1311.9"/>
<path class="cv" stroke="#00ff00" style="stroke-width:6.8;stroke-linecap:butt" d="M1766 1311.6H1778"/>
<path class="cv" stroke="#00ff00" style="stroke-width:6.8;stroke-linecap:butt" d="M1800 1311.6H1810.5"/>
<path class="cv" stroke="#00ff00" style="stroke-width:6.8;stroke-linecap:butt" d="M1860 1311.6H1869.5"/>
<path class="cv" stroke="#00ff00" style="stroke-width:6.8;stroke-linecap:butt" d="M1894.6 1311.6H1903.6"/>
<path class="cv" stroke="#00ff00" style="stroke-width:6.8;stroke-linecap:butt" d="M1942.6 1311.6H1955.5"/>
<path class="cv" stroke="#00ff00" style="stroke-width:6.8;stroke-linecap:butt" d="M1966 1311.6H1981.45"/>
<path class="lg" stroke="#000000" d="M1348.3 162H1465.8"/>
<path class="lg" stroke="#00ff00" d="M1348.3 242.7H1465.8"/>
<path class="lg" stroke="#0000ff" d="M1348.3 323.4H1465.8"/>
<path class="lg" stroke="#ff0000" d="M1348.3 403.7H1465.8"/>
<text x="1491" y="174.0" textLength="97" lengthAdjust="spacingAndGlyphs">H<tspan dy="15">3</tspan><tspan dy="-15">L</tspan></text>
<text x="1491" y="255.0" textLength="410" lengthAdjust="spacingAndGlyphs">[Eu(H<tspan dy="15">3</tspan><tspan dy="-15">L)</tspan><tspan dy="15">2</tspan><tspan dy="-15">(NO</tspan><tspan dy="15">3</tspan><tspan dy="-15">)</tspan><tspan dy="15">3</tspan><tspan dy="-15">]</tspan></text>
<text x="1491" y="336.0" textLength="418" lengthAdjust="spacingAndGlyphs">[Gd(H<tspan dy="15">3</tspan><tspan dy="-15">L)</tspan><tspan dy="15">2</tspan><tspan dy="-15">(NO</tspan><tspan dy="15">3</tspan><tspan dy="-15">)</tspan><tspan dy="15">3</tspan><tspan dy="-15">]</tspan></text>
<text x="1491" y="416.6" textLength="407" lengthAdjust="spacingAndGlyphs">[Tb(H<tspan dy="15">3</tspan><tspan dy="-15">L)</tspan><tspan dy="15">2</tspan><tspan dy="-15">(NO</tspan><tspan dy="15">3</tspan><tspan dy="-15">)</tspan><tspan dy="15">3</tspan><tspan dy="-15">]</tspan></text>
</svg>
</body>
</html>
